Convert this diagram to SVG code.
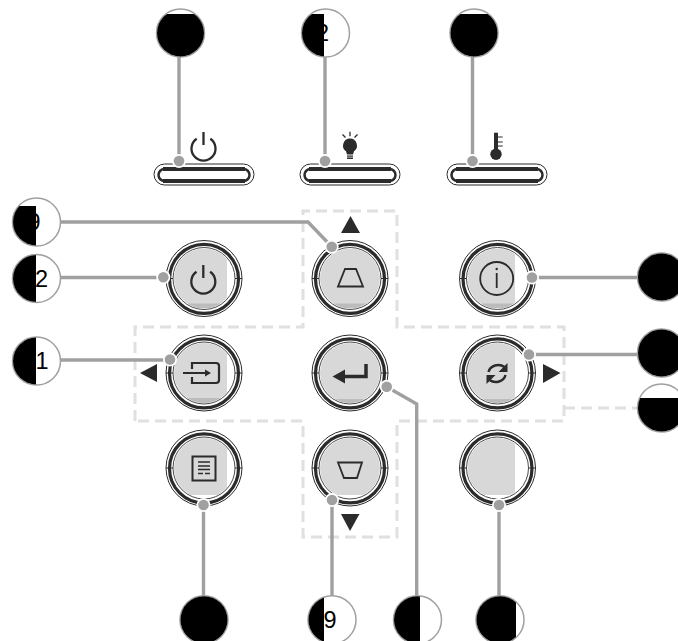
<svg xmlns="http://www.w3.org/2000/svg" width="678" height="641" viewBox="0 0 678 641">
<style>
.lead{fill:none;stroke:#a0a0a0;stroke-width:3.4}
.dash{fill:none;stroke:#e0e0e0;stroke-width:3;stroke-dasharray:11 6}
.co{fill:#fff;stroke:#a0a0a0;stroke-width:1.5}
.num{font-family:"Liberation Sans",Arial,sans-serif;font-size:23.5px;fill:#000}
.halo{fill:#fff}.dot{fill:#a0a0a0}
.ic{fill:none;stroke:#2b2b2b;stroke-width:1.8}
.icf{fill:#2b2b2b}
.g{fill:#d8d8d8}.g2{fill:#bcbcbc}
</style>
<defs>
<clipPath id="ball"><circle cx="0" cy="0" r="23.500"/></clipPath>
<clipPath id="face"><circle cx="0" cy="0" r="30"/></clipPath>
<g id="btn">
<circle r="38" fill="#fff" stroke="#2b2b2b" stroke-width="1"/>
<circle r="34.500" cy="0.400" fill="none" stroke="#2b2b2b" stroke-width="3.200"/>
<circle r="31" fill="none" stroke="#4a4a4a" stroke-width="1"/>
<path d="M-38 0H-31M31 0H38" stroke="#2b2b2b" stroke-width="1"/>
</g>
<g id="pill">
<rect x="0" y="0" width="100" height="21" rx="10.500" fill="#fff" stroke="#2b2b2b" stroke-width="1"/>
<rect x="4.500" y="5" width="91" height="12" rx="6" fill="none" stroke="#2b2b2b" stroke-width="2.500"/>
<rect x="9" y="3" width="82" height="4" fill="#2b2b2b"/>
<rect x="9" y="15" width="82" height="4" fill="#2b2b2b"/>
</g>
<g id="power"><path d="M-6.800 -8.300A12 12 0 1 0 6.800 -8.300" stroke="#2b2b2b" stroke-width="2.300" fill="none"/><path d="M0 -15V-2" stroke="#2b2b2b" stroke-width="2.300" fill="none"/></g>
</defs>

<g id="connectors">
<path class="dash" d="M135 421V327H303V211H397V327H564V421H397V537H303V421Z"/>
<path class="dash" d="M564 408H638"/>
</g>

<g id="led-power"><use href="#pill" x="154" y="164"/><use href="#power" x="203.500" y="147"/></g>
<g id="led-lamp"><use href="#pill" x="300" y="164"/>
<path class="icf" d="M350 138.500a7 7 0 0 1 4 12.700l-1 3.300h-6l-1-3.300a7 7 0 0 1 4-12.700zM347 155.500h6v1.300h-6zM347 157.500h6v1.500h-6z"/>
<path d="M350 131.700v4.500M342.500 134.500l3 3M357.500 134.500l-3 3" stroke="#2b2b2b" stroke-width="1.300"/></g>
<g id="led-temp"><use href="#pill" x="447" y="164"/>
<circle class="icf" cx="496" cy="154.300" r="5.700"/><rect class="icf" x="494" y="132.700" width="4" height="20"/>
<path d="M498 137h4.700M498 142h4.700M498 146h4.700" stroke="#2b2b2b" stroke-width="1.200"/></g>

<g id="btn-power" transform="translate(204 278.500)"><use href="#btn"/>
<g clip-path="url(#face)"><rect x="-30" y="-30" width="53" height="60" class="g"/><rect x="-30" y="25" width="53" height="5" class="g2"/></g>
<use href="#power" x="-0.700" y="1.500"/></g>
<g id="btn-keystone-up" transform="translate(350 278.500)"><use href="#btn"/>
<g clip-path="url(#face)"><rect x="-30" y="-30" width="60" height="60" class="g"/><rect x="-30" y="25" width="60" height="5" class="g2"/></g>
<path class="ic" d="M-5 -9.500H6L13 8H-12Z"/></g>
<g id="btn-info" transform="translate(497.500 278.500)"><use href="#btn"/>
<g clip-path="url(#face)"><rect x="-30" y="-30" width="47.500" height="60" class="g"/><rect x="-30" y="25" width="47.500" height="5" class="g2"/></g>
<circle class="ic" cx="-0.800" r="16.500"/><path d="M-0.800 -5.500V9.500" stroke="#2b2b2b" stroke-width="1.800"/><circle class="icf" cx="-0.800" cy="-9.500" r="1.200"/></g>
<g id="btn-source" transform="translate(204 373)"><use href="#btn"/>
<g clip-path="url(#face)"><rect x="-30" y="-30" width="53" height="60" class="g"/><rect x="-30" y="25" width="53" height="5" class="g2"/></g>
<path d="M-12 -4V-10H12Q15 -10 15 -7V7Q15 10 12 10H-12V4M-21 0H2" fill="none" stroke="#2b2b2b" stroke-width="2.200"/><path class="icf" d="M7 0L1 -3.500V3.500Z"/></g>
<g id="btn-enter" transform="translate(350 373)"><use href="#btn"/>
<g clip-path="url(#face)"><rect x="-30" y="-30" width="60" height="60" class="g"/><rect x="-30" y="26" width="60" height="4" class="g2"/></g>
<path d="M16 -9V3.500H-8" fill="none" stroke="#2b2b2b" stroke-width="3.500"/><path class="icf" d="M-17.500 3.500L-5 -3.500V10.500Z"/></g>
<g id="btn-resync" transform="translate(497.500 373)"><use href="#btn"/>
<g clip-path="url(#face)"><rect x="-30" y="-30" width="47.500" height="60" class="g"/><rect x="-30" y="26" width="47.500" height="4" class="g2"/></g>
<path d="M-9 -1A10 9 0 0 1 7 -6M8 2A10 9 0 0 1 -8 7" fill="none" stroke="#2b2b2b" stroke-width="2.500"/><path class="icf" d="M10 -10V-1H1ZM-11 11V2H-2Z"/></g>
<g id="btn-menu" transform="translate(204 468)"><use href="#btn"/>
<g clip-path="url(#face)"><rect x="-30" y="-30" width="53" height="57" class="g"/></g>
<rect x="-11.500" y="-11.500" width="23" height="24" fill="none" stroke="#2b2b2b" stroke-width="2"/>
<path d="M-6 -6H6M-6 -2H6M-6 1.500H6M-6 5.500H-1M1 5.500H6" stroke="#2b2b2b" stroke-width="1.300"/></g>
<g id="btn-keystone-down" transform="translate(350 468)"><use href="#btn"/>
<g clip-path="url(#face)"><rect x="-30" y="-30" width="60" height="57" class="g"/></g>
<path class="ic" d="M-12 -5.500H12L7 10H-6Z"/></g>
<g id="btn-blank" transform="translate(497.500 468)"><use href="#btn"/>
<g clip-path="url(#face)"><rect x="-30" y="-30" width="47.500" height="57" class="g"/></g></g>

<path id="arrow-up" class="icf" d="M350.500 216L360 233H341Z"/>
<path id="arrow-left" class="icf" d="M140 373L157 364V382Z"/>
<path id="arrow-right" class="icf" d="M560.500 373L543 364V383Z"/>
<path id="arrow-down" class="icf" d="M350 531L341 514H359.500Z"/>

<g id="leaders">
<path class="lead" d="M179 57V161M325 57V161M472.500 57V161"/>
<path class="lead" d="M60 222H308L332 247"/>
<path class="lead" d="M60 277.500H163"/>
<path class="lead" d="M60 360H170"/>
<path class="lead" d="M532 277.500H638"/>
<path class="lead" d="M529 354.500H638"/>
<path class="lead" d="M387 387L416.700 404V596"/>
<path class="lead" d="M203.500 505V596"/>
<path class="lead" d="M332 500V596"/>
<path class="lead" d="M499 505V596"/>
<g class="halo"><circle cx="179" cy="161" r="7"/><circle cx="325" cy="161" r="7"/><circle cx="472.500" cy="161" r="7"/>
<circle cx="331.700" cy="246.700" r="7"/><circle cx="163.300" cy="277.300" r="7"/><circle cx="170" cy="359.500" r="7"/>
<circle cx="532" cy="277.500" r="7"/><circle cx="529" cy="354.500" r="7"/><circle cx="386.700" cy="386.700" r="7"/>
<circle cx="203.500" cy="505" r="7"/><circle cx="332" cy="500" r="7"/><circle cx="499" cy="505" r="7"/></g>
<g class="dot"><circle cx="179" cy="161" r="5.300"/><circle cx="325" cy="161" r="5.300"/><circle cx="472.500" cy="161" r="5.300"/>
<circle cx="331.700" cy="246.700" r="5.300"/><circle cx="163.300" cy="277.300" r="5.300"/><circle cx="170" cy="359.500" r="5.300"/>
<circle cx="532" cy="277.500" r="5.300"/><circle cx="529" cy="354.500" r="5.300"/><circle cx="386.700" cy="386.700" r="5.300"/>
<circle cx="203.500" cy="505" r="5.300"/><circle cx="332" cy="500" r="5.300"/><circle cx="499" cy="505" r="5.300"/></g>
</g>

<g id="c1" transform="translate(180.500 33)"><circle class="co" r="24"/><rect x="-24" y="-19" width="48" height="44" clip-path="url(#ball)"/></g>
<g id="c2" transform="translate(325.500 33)"><circle class="co" r="24"/><text class="num" x="-9.500" y="8">2</text><rect x="-24" y="-19" width="22.500" height="44" clip-path="url(#ball)"/></g>
<g id="c3" transform="translate(474 33)"><circle class="co" r="24"/><rect x="-24" y="-19" width="48" height="44" clip-path="url(#ball)"/></g>
<g id="c4" transform="translate(36.500 222)"><circle class="co" r="24"/><text class="num" x="-9" y="8">9</text><rect x="-24" y="-16" width="23.500" height="41" clip-path="url(#ball)"/></g>
<g id="c5" transform="translate(36.500 278.500)"><circle class="co" r="24"/><text class="num" x="-1.500" y="8">2</text><rect x="-24" y="-25" width="23.500" height="50" clip-path="url(#ball)"/></g>
<g id="c6" transform="translate(36.500 361)"><circle class="co" r="24"/><text class="num" x="-1" y="8">1</text><rect x="-24" y="-25" width="23.500" height="50" clip-path="url(#ball)"/></g>
<g id="c7" transform="translate(661.500 277)"><circle class="co" r="24"/><rect x="-24" y="-25" width="48" height="50" clip-path="url(#ball)"/></g>
<g id="c8" transform="translate(661.500 353)"><circle class="co" r="24"/><rect x="-24" y="-25" width="48" height="50" clip-path="url(#ball)"/></g>
<g id="c9" transform="translate(661.500 408)"><circle class="co" r="24"/><rect x="-24" y="-10" width="48" height="35" clip-path="url(#ball)"/></g>
<g id="c10" transform="translate(204 619.700)"><circle class="co" r="24"/><rect x="-24" y="-25" width="48" height="50" clip-path="url(#ball)"/></g>
<g id="c11" transform="translate(332 619.700)"><circle class="co" r="24"/><text class="num" x="-8.500" y="8">9</text><rect x="-24" y="-25" width="16" height="50" clip-path="url(#ball)"/></g>
<g id="c12" transform="translate(417.500 619.700)"><circle class="co" r="24"/><text class="num" x="-10" y="8">8</text><rect x="-24" y="-25" width="26.500" height="50" clip-path="url(#ball)"/></g>
<g id="c13" transform="translate(500 619.700)"><circle class="co" r="24"/><rect x="-24" y="-25" width="40" height="50" clip-path="url(#ball)"/></g>
</svg>
